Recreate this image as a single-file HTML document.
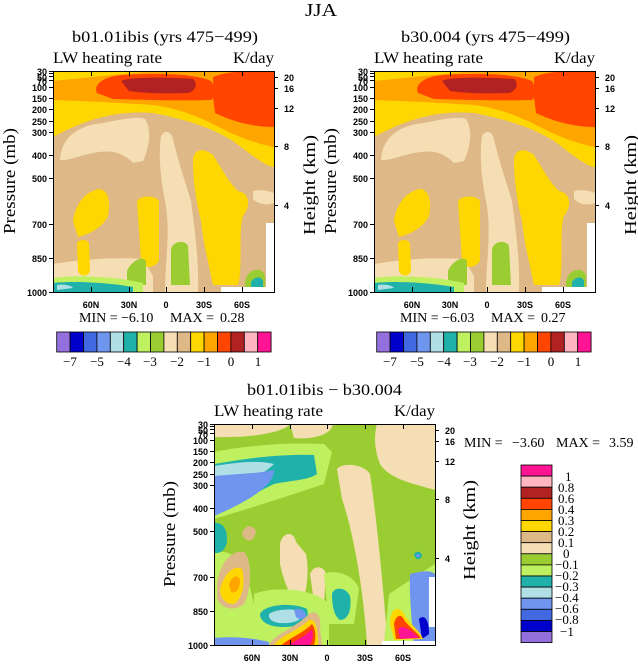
<!DOCTYPE html>
<html><head><meta charset="utf-8"><style>
html,body{margin:0;padding:0;background:#fff;width:638px;height:664px;overflow:hidden}
svg{display:block}
text{white-space:pre}
.t{font-family:"Liberation Serif",serif;fill:#000}
.tk{font-family:"Liberation Sans",sans-serif;font-weight:bold;font-size:9px;fill:#000}
</style></head><body>
<svg width="638" height="664" viewBox="0 0 638 664" xmlns="http://www.w3.org/2000/svg">
<defs>
<clipPath id="cp"><rect x="0" y="0" width="221" height="221"/></clipPath>
<g id="top">
<g clip-path="url(#cp)">
<rect x="0" y="0" width="221" height="221" fill="#deb887"/>
<path d="M7,89 C8,70 20,55 50,52 C70,48 85,45 92,48 C100,60 95,80 90,90 L80,92 C70,82 60,78 40,82 C25,85 15,90 7,89 Z" fill="#f5deb3"/>
<path d="M108,65 C112,58 118,60 120,68 C125,90 132,110 138,130 C142,160 146,190 145,221 L112,221 C112,190 118,160 112,130 C108,110 105,85 108,65 Z" fill="#f5deb3"/>
<path d="M0,193 C30,188 60,186 90,188 L100,205 L100,221 L0,221 Z" fill="#f5deb3"/>
<path d="M200,120 C208,118 215,120 221,122 L221,132 C212,135 205,133 200,128 Z" fill="#f5deb3"/>
<path d="M20,150 C22,135 30,122 45,118 C55,118 58,130 55,145 C50,155 40,162 25,166 Z" fill="#ffd700"/>
<path d="M24,172 C26,168 34,168 36,172 L37,200 C35,206 27,206 25,200 Z" fill="#ffd700"/>
<path d="M84,130 C88,124 102,124 106,130 L106,190 C100,198 92,198 88,190 Z" fill="#ffd700"/>
<path d="M140,90 C140,78 150,76 160,84 C170,100 175,110 185,120 C197,122 198,135 190,145 C185,160 190,200 185,214 L160,214 C155,190 150,170 148,150 C143,130 140,110 140,90 Z" fill="#ffd700"/>
<path d="M118,180 C118,170 132,168 135,175 L137,214 L118,214 Z" fill="#9acd32"/>
<path d="M74,200 C78,190 90,184 93,190 L93,214 L74,214 Z" fill="#9acd32"/>
<path d="M0,207 C20,204 60,205 90,212 L90,221 L0,221 Z" fill="#bef05f"/>
<path d="M0,212 C20,210 50,211 80,216 L80,221 L0,221 Z" fill="#20b2aa"/>
<path d="M4,214 C10,213 18,214 20,217 L4,219 Z" fill="#b0e0e6"/>
<path d="M192,210 C196,196 210,196 212,205 L212,216 L192,216 Z" fill="#9acd32"/>
<path d="M198,211 C202,205 208,205 210,210 L210,216 L198,216Z" fill="#20b2aa"/>
<path d="M0,0 L221,0 L221,96 C212,95 200,85 180,70 C160,58 140,50 100,42 C70,40 40,44 0,66 Z" fill="#ffd700"/>
<path d="M0,10 C20,8 40,6 60,4 L100,0 L221,0 L221,76 C205,73 185,66 170,58 C150,48 130,38 100,34 C70,32 30,30 0,29 Z" fill="#ffa500"/>
<path d="M44,22 C40,14 50,5 70,4 C100,2 140,2 158,10 C162,16 164,24 158,29 C130,30 100,29 60,28 Z" fill="#ff4500"/>
<path d="M160,6 C175,0 190,0 221,0 L221,56 C205,56 185,53 162,42 L160,26 Z" fill="#ff4500"/>
<path d="M68,10 C75,6 110,6 140,8 C145,12 143,20 135,22 C110,23 90,22 76,20 Z" fill="#b22222"/>
<rect x="213" y="152" width="8" height="69" fill="#fff"/>
<rect x="168" y="216" width="53" height="5" fill="#fff"/>
</g>
</g>
<g id="diff">
<g clip-path="url(#cp)">
<rect x="0" y="0" width="221" height="221" fill="#9acd32"/>
<path d="M0,0 L76,0 C70,8 40,14 0,13 Z" fill="#f5deb3"/>
<path d="M76,0 L119,0 C118,10 100,16 80,14 Z" fill="#f5deb3"/>
<path d="M163,0 L221,0 L221,66 C200,60 175,55 166,40 C160,25 160,10 163,0 Z" fill="#f5deb3"/>
<path d="M123,45 C128,38 150,40 156,50 C162,90 168,150 172,200 L170,221 L153,221 C150,170 140,110 128,75 Z" fill="#f5deb3"/>
<path d="M66,120 C68,108 80,106 82,118 L92,130 C96,150 92,175 85,183 C78,175 70,160 66,140 Z" fill="#f5deb3"/>
<path d="M96,150 C100,140 110,142 112,150 L110,180 L100,178 Z" fill="#f5deb3"/>
<path d="M0,28 C30,22 70,18 110,20 L118,28 L110,60 C80,70 50,80 0,95 Z" fill="#bef05f"/>
<path d="M0,128 C10,126 20,130 30,140 L40,180 L44,221 L0,221 Z" fill="#bef05f"/>
<path d="M40,170 C60,162 100,164 115,180 L115,221 L40,221 Z" fill="#bef05f"/>
<path d="M110,150 C120,145 140,150 145,165 L140,200 L115,200 Z" fill="#bef05f"/>
<path d="M175,170 C190,160 205,150 221,140 L221,221 L170,221 Z" fill="#bef05f"/>
<path d="M0,40 C30,35 60,30 100,31 L103,50 C95,56 80,56 60,60 C40,70 20,80 0,90 Z" fill="#20b2aa"/>
<path d="M0,42 C25,38 45,36 60,40 C50,50 30,60 0,70 Z" fill="#b0e0e6"/>
<path d="M0,52 C20,50 40,50 60,46 C60,60 40,75 0,92 Z" fill="#6f95ef"/>
<path d="M0,99 C8,98 13,104 13,115 C13,124 8,130 0,129 Z" fill="#20b2aa"/>
<path d="M3,160 C5,140 18,125 30,128 C38,135 38,165 30,180 C20,188 8,185 3,175 Z" fill="#deb887"/>
<path d="M6,165 C10,150 20,140 28,145 C32,160 28,175 20,180 C12,180 6,175 6,165Z" fill="#ffd700"/>
<path d="M15,160 C18,152 24,150 26,156 C26,165 22,170 17,168 Z" fill="#ffa500"/>
<path d="M28,110 C30,100 40,100 42,108 C40,118 32,120 28,110Z" fill="#deb887"/>
<path d="M46,190 C50,180 80,178 93,185 C96,195 90,203 70,203 C55,203 46,198 46,190Z" fill="#20b2aa"/>
<path d="M55,190 C62,185 80,184 88,188 C90,196 80,200 65,199 C58,198 54,195 55,190Z" fill="#b0e0e6"/>
<path d="M80,186 C85,183 92,186 92,192 C90,196 85,196 82,193Z" fill="#6f95ef"/>
<path d="M118,170 C120,162 132,163 136,172 C138,186 134,196 126,196 C120,192 118,182 118,170Z" fill="#20b2aa"/>
<path d="M55,221 C60,210 80,205 95,190 C102,185 108,192 106,205 L108,221 Z" fill="#deb887"/>
<path d="M60,221 C66,212 82,208 95,196 C102,194 104,205 104,221 Z" fill="#ffd700"/>
<path d="M68,221 C75,214 88,210 98,200 C102,205 102,214 100,221Z" fill="#ff4500"/>
<path d="M75,221 C82,216 92,212 98,205 C100,212 98,218 96,221Z" fill="#ff1493"/>
<path d="M10,221 C12,212 20,210 22,221Z" fill="#ff4500"/>
<path d="M0,214 C20,212 40,214 55,218 L55,221 L0,221Z" fill="#6f95ef"/>
<path d="M196,150 C205,148 215,145 221,150 L221,221 L200,221 C198,200 195,170 196,150Z" fill="#6f95ef"/>
<path d="M205,195 C210,190 215,195 215,210 L208,215 Z" fill="#0000cd"/>
<path d="M176,200 C176,185 184,180 190,190 C195,200 205,205 209,215 L180,216 Z" fill="#ffd700"/>
<path d="M180,200 C182,190 188,190 190,196 C196,204 203,208 207,214 L182,215 Z" fill="#ff4500"/>
<path d="M184,205 C188,200 196,205 205,214 L186,215 Z" fill="#ff1493"/>
<path d="M200,130 C203,126 208,128 208,132 C206,137 201,136 200,130Z" fill="#20b2aa"/>
<path d="M202,131 C204,129 206,130 206,132 C205,134 203,134 202,131Z" fill="#6f95ef"/>
<rect x="215" y="153" width="6" height="50" fill="#fff"/>
<rect x="168" y="217" width="53" height="4" fill="#fff"/>
</g>
</g>
</defs>

<text x="305" y="16" class="t" font-size="18" textLength="32" lengthAdjust="spacingAndGlyphs">JJA</text>

<g transform="translate(53,71)"><use href="#top"/></g>
<g transform="translate(374,71)"><use href="#top"/></g>
<g transform="translate(214,424)"><use href="#diff"/></g>

<g fill="none" stroke="#000" stroke-width="1">
<rect x="53.5" y="71.5" width="221" height="221"/>
<rect x="374.5" y="71.5" width="221" height="221"/>
<rect x="214.5" y="424.5" width="221" height="221"/>
</g>

<g stroke="#000" stroke-width="1">
<path id="tks" d="M53,71.5h-4M53,73.5h-4M53,76.5h-4M53,80.5h-4M53,87.5h-4M53,98.5h-4M53,109.5h-4M53,121.5h-4M53,132.5h-4M53,155.5h-4M53,178.5h-4M53,224.5h-4M53,258.5h-4M53,292.5h-4
M274,77.5h4M274,88.5h4M274,108.5h4M274,146.5h4M274,205.5h4
M91.5,71v5M129.5,71v5M166.5,71v5M204.5,71v5M242.5,71v5M91.5,292v-5M129.5,292v-5M166.5,292v-5M204.5,292v-5M242.5,292v-5"/>
<use href="#tks" transform="translate(321,0)"/>
<use href="#tks" transform="translate(161,353)"/>
</g>

<g class="t" font-size="16">
<text x="72" y="42" textLength="186" lengthAdjust="spacingAndGlyphs">b01.01ibis (yrs 475−499)</text>
<text x="53" y="63" textLength="109" lengthAdjust="spacingAndGlyphs">LW heating rate</text>
<text x="233" y="63" textLength="41" lengthAdjust="spacingAndGlyphs">K/day</text>
<text x="401" y="42" textLength="169" lengthAdjust="spacingAndGlyphs">b30.004 (yrs 475−499)</text>
<text x="374" y="63" textLength="109" lengthAdjust="spacingAndGlyphs">LW heating rate</text>
<text x="554" y="63" textLength="41" lengthAdjust="spacingAndGlyphs">K/day</text>
<text x="247" y="395" textLength="155" lengthAdjust="spacingAndGlyphs">b01.01ibis − b30.004</text>
<text x="214" y="416" textLength="109" lengthAdjust="spacingAndGlyphs">LW heating rate</text>
<text x="394" y="416" textLength="41" lengthAdjust="spacingAndGlyphs">K/day</text>
</g>

<g class="tk" text-anchor="end">
<g>
<text x="47" y="75">30</text><text x="47" y="81">50</text><text x="47" y="85">70</text>
<text x="47" y="91">100</text><text x="47" y="102">150</text><text x="47" y="113">200</text>
<text x="47" y="125">250</text><text x="47" y="136">300</text><text x="47" y="159">400</text>
<text x="47" y="182">500</text><text x="47" y="228">700</text><text x="47" y="262">850</text>
<text x="47" y="296">1000</text>
</g>
<g transform="translate(321,0)"><text x="47" y="75">30</text><text x="47" y="81">50</text><text x="47" y="85">70</text>
<text x="47" y="91">100</text><text x="47" y="102">150</text><text x="47" y="113">200</text>
<text x="47" y="125">250</text><text x="47" y="136">300</text><text x="47" y="159">400</text>
<text x="47" y="182">500</text><text x="47" y="228">700</text><text x="47" y="262">850</text>
<text x="47" y="296">1000</text></g>
<g transform="translate(161,353)"><text x="47" y="75">30</text><text x="47" y="81">50</text><text x="47" y="85">70</text>
<text x="47" y="91">100</text><text x="47" y="102">150</text><text x="47" y="113">200</text>
<text x="47" y="125">250</text><text x="47" y="136">300</text><text x="47" y="159">400</text>
<text x="47" y="182">500</text><text x="47" y="228">700</text><text x="47" y="262">850</text>
<text x="47" y="296">1000</text></g>
</g>
<g class="tk" font-weight="normal">
<g><text x="284" y="81">20</text><text x="284" y="92">16</text><text x="284" y="112">12</text><text x="284" y="150">8</text><text x="284" y="209">4</text></g>
<g transform="translate(321,0)"><text x="284" y="81">20</text><text x="284" y="92">16</text><text x="284" y="112">12</text><text x="284" y="150">8</text><text x="284" y="209">4</text></g>
<g transform="translate(161,353)"><text x="284" y="81">20</text><text x="284" y="92">16</text><text x="284" y="112">12</text><text x="284" y="150">8</text><text x="284" y="209">4</text></g>
</g>
<g class="tk" text-anchor="middle">
<g><text x="91" y="308">60N</text><text x="129" y="308">30N</text><text x="166" y="308">0</text><text x="204" y="308">30S</text><text x="242" y="308">60S</text></g>
<g transform="translate(321,0)"><text x="91" y="308">60N</text><text x="129" y="308">30N</text><text x="166" y="308">0</text><text x="204" y="308">30S</text><text x="242" y="308">60S</text></g>
<g transform="translate(161,353)"><text x="91" y="308">60N</text><text x="129" y="308">30N</text><text x="166" y="308">0</text><text x="204" y="308">30S</text><text x="242" y="308">60S</text></g>
</g>
<g class="t" font-size="17">
<text transform="translate(15,234) rotate(-90)" textLength="106" lengthAdjust="spacingAndGlyphs">Pressure (mb)</text>
<text transform="translate(315,235) rotate(-90)" textLength="100" lengthAdjust="spacingAndGlyphs">Height (km)</text>
<text transform="translate(336,234) rotate(-90)" textLength="106" lengthAdjust="spacingAndGlyphs">Pressure (mb)</text>
<text transform="translate(636,235) rotate(-90)" textLength="100" lengthAdjust="spacingAndGlyphs">Height (km)</text>
<text transform="translate(175,587) rotate(-90)" textLength="106" lengthAdjust="spacingAndGlyphs">Pressure (mb)</text>
<text transform="translate(475,580) rotate(-90)" textLength="100" lengthAdjust="spacingAndGlyphs">Height (km)</text>
</g>

<g class="t" font-size="14">
<text x="79" y="322">MIN =</text><text x="121" y="322">−6.10</text><text x="170" y="322">MAX =</text><text x="220" y="322">0.28</text>
<text x="400" y="322">MIN =</text><text x="442" y="322">−6.03</text><text x="491" y="322">MAX =</text><text x="541" y="322">0.27</text>
<text x="464" y="447">MIN =</text><text x="512" y="447">−3.60</text><text x="556" y="447">MAX =</text><text x="609" y="447">3.59</text>
</g>

<g id="cb1" stroke="#000" stroke-width="0.8">
<rect x="56.7" y="332" width="13.4" height="20" fill="#9370db"/>
<rect x="70.1" y="332" width="13.4" height="20" fill="#0000cd"/>
<rect x="83.5" y="332" width="13.4" height="20" fill="#4169e1"/>
<rect x="96.9" y="332" width="13.4" height="20" fill="#6f95ef"/>
<rect x="110.3" y="332" width="13.4" height="20" fill="#b0e0e6"/>
<rect x="123.7" y="332" width="13.4" height="20" fill="#20b2aa"/>
<rect x="137.1" y="332" width="13.4" height="20" fill="#bef05f"/>
<rect x="150.5" y="332" width="13.4" height="20" fill="#9acd32"/>
<rect x="163.9" y="332" width="13.4" height="20" fill="#f5deb3"/>
<rect x="177.3" y="332" width="13.4" height="20" fill="#deb887"/>
<rect x="190.7" y="332" width="13.4" height="20" fill="#ffd700"/>
<rect x="204.1" y="332" width="13.4" height="20" fill="#ffa500"/>
<rect x="217.5" y="332" width="13.4" height="20" fill="#ff4500"/>
<rect x="230.9" y="332" width="13.4" height="20" fill="#b22222"/>
<rect x="244.3" y="332" width="13.4" height="20" fill="#ffb6c1"/>
<rect x="257.7" y="332" width="13.4" height="20" fill="#ff1493"/>
</g>
<use href="#cb1" transform="translate(320,0)"/>
<g class="t" font-size="13" text-anchor="middle">
<text x="70" y="366">−7</text><text x="97" y="366">−5</text><text x="124" y="366">−4</text><text x="150" y="366">−3</text><text x="177" y="366">−2</text><text x="204" y="366">−1</text><text x="231" y="366">0</text><text x="258" y="366">1</text>
<text x="390" y="366">−7</text><text x="417" y="366">−5</text><text x="444" y="366">−4</text><text x="470" y="366">−3</text><text x="497" y="366">−2</text><text x="524" y="366">−1</text><text x="551" y="366">0</text><text x="578" y="366">1</text>
</g>

<g stroke="#000" stroke-width="0.8">
<rect x="521" y="465.0" width="31" height="11.1" fill="#ff1493"/>
<rect x="521" y="476.1" width="31" height="11.1" fill="#ffb6c1"/>
<rect x="521" y="487.2" width="31" height="11.1" fill="#b22222"/>
<rect x="521" y="498.3" width="31" height="11.1" fill="#ff4500"/>
<rect x="521" y="509.4" width="31" height="11.1" fill="#ffa500"/>
<rect x="521" y="520.5" width="31" height="11.1" fill="#ffd700"/>
<rect x="521" y="531.6" width="31" height="11.1" fill="#deb887"/>
<rect x="521" y="542.7" width="31" height="11.1" fill="#f5deb3"/>
<rect x="521" y="553.8" width="31" height="11.1" fill="#9acd32"/>
<rect x="521" y="564.9" width="31" height="11.1" fill="#bef05f"/>
<rect x="521" y="576.0" width="31" height="11.1" fill="#20b2aa"/>
<rect x="521" y="587.1" width="31" height="11.1" fill="#b0e0e6"/>
<rect x="521" y="598.2" width="31" height="11.1" fill="#6f95ef"/>
<rect x="521" y="609.3" width="31" height="11.1" fill="#4169e1"/>
<rect x="521" y="620.4" width="31" height="11.1" fill="#0000cd"/>
<rect x="521" y="631.5" width="31" height="11.1" fill="#9370db"/>
</g>
<g class="t" font-size="13">
<text x="565" y="481">1</text><text x="558" y="492">0.8</text><text x="558" y="503">0.6</text><text x="558" y="514">0.4</text><text x="558" y="525">0.3</text><text x="558" y="536">0.2</text><text x="558" y="547">0.1</text><text x="563" y="558">0</text>
<text x="555" y="569">−0.1</text><text x="555" y="580">−0.2</text><text x="555" y="591">−0.3</text><text x="555" y="602">−0.4</text><text x="555" y="613">−0.6</text><text x="555" y="624">−0.8</text><text x="560" y="636">−1</text>
</g>
</svg>
</body></html>
